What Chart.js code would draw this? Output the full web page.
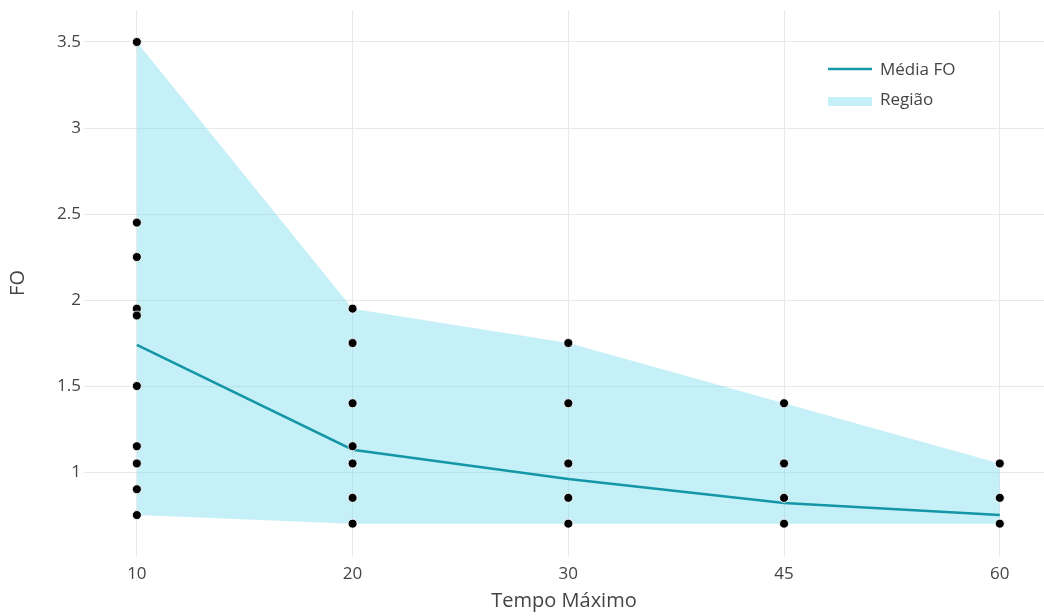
<!DOCTYPE html>
<html>
<head>
<meta charset="utf-8">
<script src="https://cdn.jsdelivr.net/npm/chart.js@4"></script>
<style>
  html, body { margin: 0; padding: 0; background: #ffffff; }
  #wrap { width: 1044px; height: 616px; }
</style>
</head>
<body>
<div id="wrap"><canvas id="c" width="1044" height="616"></canvas></div>
<script>
// Tempo máximo (categorias do eixo x)
const tempos = ['10', '20', '30', '45', '60'];

// Valores de FO observados em cada tempo máximo
const foTempo10 = [3.5, 2.45, 2.25, 1.95, 1.91, 1.5, 1.15, 1.05, 0.9, 0.75];
const foTempo20 = [1.95, 1.75, 1.4, 1.15, 1.05, 0.85, 0.7];
const foTempo30 = [1.75, 1.4, 1.05, 0.85, 0.7];
const foTempo45 = [1.4, 1.05, 0.85, 0.7];
const foTempo60 = [1.05, 0.85, 0.7];

// Média de FO por tempo
const mediaFO = [1.74, 1.13, 0.96, 0.82, 0.75];

// Limites da região (máximo e mínimo)
const regiaoMax = [3.5, 1.95, 1.75, 1.4, 1.05];
const regiaoMin = [0.75, 0.7, 0.7, 0.7, 0.7];

// Marcas do eixo y
const yTicks = [1, 1.5, 2, 2.5, 3, 3.5];

const observacoes = [foTempo10, foTempo20, foTempo30, foTempo45, foTempo60];

const pontos = [];
observacoes.forEach((vals, i) => vals.forEach(v => pontos.push({ x: i, y: v })));
const asPoints = arr => arr.map((v, i) => ({ x: i, y: v }));

const FONT = "'Open Sans', 'Noto Sans', sans-serif";
const TEXT = '#444444';
const LINE_COLOR = '#1496a6';
const FILL_COLOR = 'rgba(120, 220, 236, 0.42)';

// Legenda desenhada dentro da área do gráfico
const legendaInterna = {
  id: 'legendaInterna',
  afterDraw(chart) {
    const ctx = chart.ctx;
    const x0 = 828, w = 44, tx = 880;
    ctx.save();
    ctx.font = '17px ' + FONT;
    ctx.fillStyle = TEXT;
    ctx.textBaseline = 'middle';
    ctx.textAlign = 'left';
    // Média FO
    ctx.strokeStyle = LINE_COLOR;
    ctx.lineWidth = 2.5;
    ctx.beginPath();
    ctx.moveTo(x0, 69);
    ctx.lineTo(x0 + w, 69);
    ctx.stroke();
    ctx.fillText('Média FO', tx, 70);
    // Região
    ctx.fillStyle = FILL_COLOR;
    ctx.fillRect(x0, 97, w, 9);
    ctx.fillStyle = TEXT;
    ctx.fillText('Região', tx, 100);
    ctx.restore();
  }
};

new Chart(document.getElementById('c'), {
  type: 'line',
  data: {
    datasets: [
      {
        label: 'Observações',
        type: 'scatter',
        data: pontos,
        backgroundColor: '#000000',
        borderColor: 'rgba(255,255,255,0.85)',
        borderWidth: 1,
        pointRadius: 4.5,
        order: 0
      },
      {
        label: 'Média FO',
        data: asPoints(mediaFO),
        borderColor: LINE_COLOR,
        borderWidth: 2.5,
        pointRadius: 0,
        fill: false,
        tension: 0,
        order: 1
      },
      {
        label: 'Região',
        data: asPoints(regiaoMax),
        borderWidth: 0,
        borderColor: 'rgba(0,0,0,0)',
        backgroundColor: FILL_COLOR,
        pointRadius: 0,
        fill: '+1',
        tension: 0,
        order: 2
      },
      {
        label: 'Região (mín)',
        data: asPoints(regiaoMin),
        borderWidth: 0,
        borderColor: 'rgba(0,0,0,0)',
        pointRadius: 0,
        fill: false,
        tension: 0,
        order: 3
      }
    ]
  },
  options: {
    responsive: false,
    animation: false,
    layout: { autoPadding: false, padding: { top: 10, right: 0, left: 0, bottom: 0 } },
    plugins: {
      legend: { display: false },
      tooltip: { enabled: false }
    },
    scales: {
      x: {
        type: 'linear',
        min: -0.245,
        max: 4.205,
        afterBuildTicks(scale) {
          scale.ticks = tempos.map((t, i) => ({ value: i }));
        },
        afterFit(scale) {
          scale.height = 60;
          scale.paddingLeft = 0;
          scale.paddingRight = 0;
        },
        grid: { color: '#e9e9e9', lineWidth: 1, drawTicks: false },
        border: { display: false },
        ticks: {
          padding: 8,
          color: TEXT,
          font: { family: FONT, size: 17 },
          callback: v => tempos[v]
        },
        title: {
          display: true,
          text: 'Tempo Máximo',
          color: TEXT,
          font: { family: FONT, size: 20 },
          padding: { top: 0, bottom: 3 }
        }
      },
      y: {
        type: 'linear',
        min: 0.512,
        max: 3.686,
        afterBuildTicks(scale) {
          scale.ticks = yTicks.map(v => ({ value: v }));
        },
        afterFit(scale) {
          scale.width = 84;
          scale.paddingTop = 0;
          scale.paddingBottom = 0;
        },
        grid: { color: '#e9e9e9', lineWidth: 1, drawTicks: false },
        border: { display: false },
        ticks: {
          padding: 3,
          color: TEXT,
          font: { family: FONT, size: 17 },
          callback: v => String(v)
        },
        title: {
          display: true,
          text: 'FO',
          color: TEXT,
          font: { family: FONT, size: 20 },
          padding: { top: 6, bottom: 0 }
        }
      }
    }
  },
  plugins: [legendaInterna]
});
</script>
</body>
</html>
